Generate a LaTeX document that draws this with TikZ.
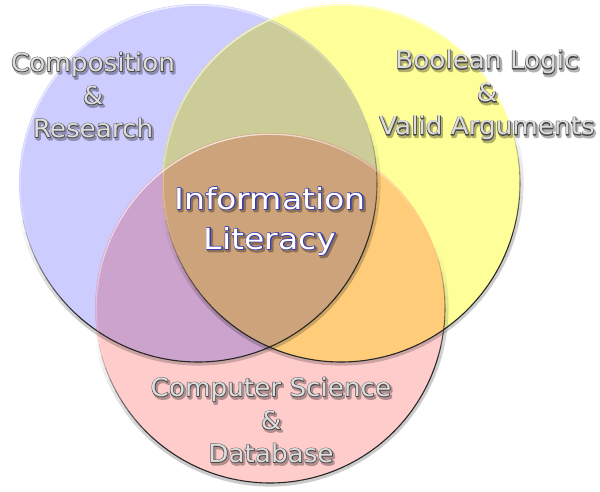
\documentclass[tikz,border=0pt]{standalone}
\usepackage{fontspec}
\setmainfont{DejaVu Sans}
\newfontfamily\labfont[FakeStretch=1.05]{DejaVu Sans}
\newfontfamily\ctrfont[FakeStretch=1.14]{DejaVu Sans}
\usetikzlibrary{calc}
\definecolor{cblue}{HTML}{CCCCFF}
\definecolor{cyellow}{HTML}{FFFF99}
\definecolor{cpink}{HTML}{FFCCCC}
\definecolor{cby}{HTML}{CCCC99}
\definecolor{cbp}{HTML}{CCA3CC}
\definecolor{cyp}{HTML}{FFCC7A}
\definecolor{cbyp}{HTML}{CCA37A}
\definecolor{labfill}{HTML}{DDDDDD}
\definecolor{labline}{HTML}{4A4A4A}
\definecolor{ctrfill}{HTML}{FFFFFF}
\definecolor{ctrline}{HTML}{3A3AB0}
% stroked text (render mode 2) in the current colour, with given width
\newcommand\ST[2]{\special{pdf:literal direct 2 Tr #1 w 1 j}#2\special{pdf:literal direct 0 Tr 0.4 w 0 j}}
\newcommand\rimshade[2]{%
  \foreach \a in {0,4,...,356}{%
    \pgfmathsetmacro\op{min(1,max(0,1.5*cos(\a+2-285)+0.15))}%
    \pgfmathsetmacro\ro{#2+1.8}%
    \pgfmathsetmacro\ea{\a+4}%
    \draw[line width=3.6pt, draw=black, opacity=0.2*\op, line cap=butt]
      ($(#1)+(\a:\ro pt)$) arc[start angle=\a, end angle=\ea, radius=\ro pt];
    \draw[line width=1.1pt, draw=black!85, opacity=\op, line cap=butt]
      ($(#1)+(\a:#2pt)$) arc[start angle=\a, end angle=\ea, radius=#2pt];
    \pgfmathsetmacro\hop{0.7*max(0,cos(\a+2-115))}%
    \pgfmathsetmacro\ri{#2-1.2}%
    \draw[line width=1.4pt, draw=white, opacity=\hop, line cap=butt]
      ($(#1)+(\a:\ri pt)$) arc[start angle=\a, end angle=\ea, radius=\ri pt];
  }%
}
\tikzset{
  lab/.style={font=\labfont\fontsize{25}{33}\selectfont, align=center, text=labfill, inner sep=0pt},
  ctr/.style={font=\ctrfont\fontsize{29}{40}\selectfont, align=center, text=ctrfill, inner sep=0pt},
}
\begin{document}
\begin{tikzpicture}[x=1pt,y=1pt]
\useasboundingbox (0,0) rectangle (600,491);
\fill[white] (0,0) rectangle (600,491);
\coordinate (B) at (198,308);
\coordinate (Y) at (341,308);
\coordinate (P) at (270,183);
% base fills
\fill[cblue] (B) circle[radius=179pt];
\fill[cyellow] (Y) circle[radius=179pt];
\fill[cpink] (P) circle[radius=175pt];
% overlaps
\begin{scope}
  \clip (B) circle[radius=179pt];
  \fill[cby] (Y) circle[radius=179pt];
  \fill[cbp] (P) circle[radius=175pt];
\end{scope}
\begin{scope}
  \clip (Y) circle[radius=179pt];
  \fill[cyp] (P) circle[radius=175pt];
  \clip (P) circle[radius=175pt];
  \fill[cbyp] (B) circle[radius=179pt];
\end{scope}
% rims
\rimshade{B}{179}
\rimshade{Y}{179}
\rimshade{P}{175}
% text shadows
\begin{scope}[transparency group, opacity=0.3]
  \node[lab, text=black] (compS) at (94.5,394) {\ST{2.6}{Composition}\\\ST{2.6}{\&}\\\ST{2.6}{Research}};
  \node[lab, text=black] (boolS) at (488.5,394) {\ST{2.6}{Boolean Logic}\\\ST{2.6}{\&}\\\ST{2.6}{Valid Arguments}};
  \node[ctr, text=black] (infoS) at (271.5,268) {\ST{2.8}{Information}\\\ST{2.8}{Literacy}};
  \node[lab, text=black] (compsciS) at (272.5,69) {\ST{2.6}{Computer Science}\\\ST{2.6}{\&}\\\ST{2.6}{Database}};
\end{scope}
% outlines
\node[lab, text=labline] (compO) at (93,396) {\ST{1.3}{Composition}\\\ST{1.3}{\&}\\\ST{1.3}{Research}};
\node[lab, text=labline] (boolO) at (487,396) {\ST{1.3}{Boolean Logic}\\\ST{1.3}{\&}\\\ST{1.3}{Valid Arguments}};
\node[ctr, text=ctrline] (infoO) at (270,270) {\ST{1.5}{Information}\\\ST{1.5}{Literacy}};
\node[lab, text=labline] (compsciO) at (271,71) {\ST{1.3}{Computer Science}\\\ST{1.3}{\&}\\\ST{1.3}{Database}};
% fills
\node[lab] (comp) at (93,396) {Composition\\\&\\Research};
\node[lab] (bool) at (487,396) {Boolean Logic\\\&\\Valid Arguments};
\node[ctr] (info) at (270,270) {Information\\Literacy};
\node[lab] (compsci) at (271,71) {Computer Science\\\&\\Database};
\end{tikzpicture}
\end{document}
